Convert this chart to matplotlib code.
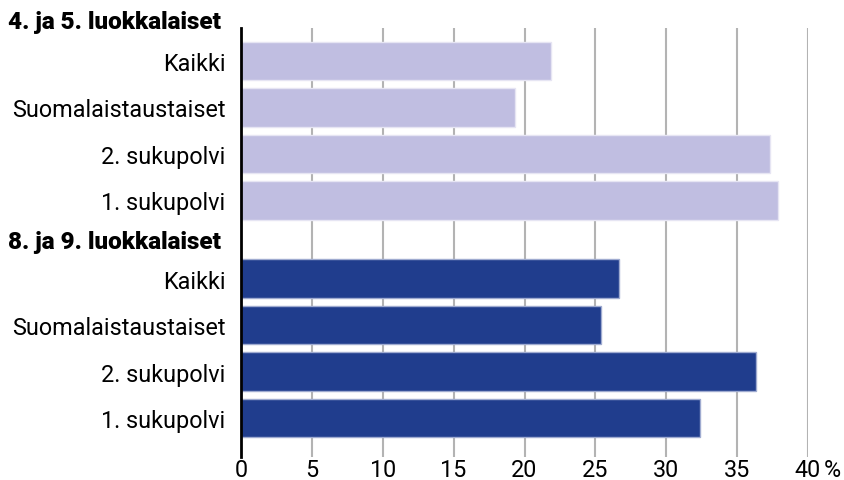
import matplotlib
matplotlib.use("Agg")
import matplotlib.pyplot as plt

# Share of pupils (%) by background, two grade groups
groups = ["4. ja 5. luokkalaiset", "8. ja 9. luokkalaiset"]
categories = ["Kaikki", "Suomalaistaustaiset", "2. sukupolvi", "1. sukupolvi"]
values_grade45 = [21.9, 19.3, 37.3, 37.9]
values_grade89 = [26.7, 25.4, 36.3, 32.4]
xticks = [0, 5, 10, 15, 20, 25, 30, 35, 40]

colors = ["#c0bee1", "#203d8d"]
edges = ["#e6e5f3", "#9fabd0"]

plt.rcParams["font.family"] = ["Roboto", "DejaVu Sans"]

W, H = 845, 481
fig = plt.figure(figsize=(W / 100, H / 100), dpi=100)
ax_left, ax_right, ax_top, ax_bottom = 241, 808, 29, 458
ax = fig.add_axes([ax_left / W, 1 - ax_bottom / H,
                   (ax_right - ax_left) / W, (ax_bottom - ax_top) / H])

# vertical layout in slot units (one slot = one bar pitch)
group_offsets = [0.0, 4.68]
bar_h = 0.83
pitch_px = 46.5
first_center_px = 62

yticks, ylabels = [], []
for g, (vals, off) in enumerate(zip([values_grade45, values_grade89], group_offsets)):
    ys = [off + i for i in range(len(categories))]
    ax.barh(ys, vals, height=bar_h, color=colors[g], edgecolor=edges[g],
            linewidth=1.0, zorder=3)
    yticks += ys
    ylabels += categories

ymin = (ax_top - first_center_px) / pitch_px
ymax = (ax_bottom - first_center_px) / pitch_px
ax.set_ylim(ymax, ymin)
ax.set_xlim(0, 40)

ax.set_yticks(yticks)
ax.set_yticklabels(ylabels, fontsize=16.8)
ax.set_xticks(xticks)
ax.set_xticklabels([str(t) for t in xticks], fontsize=16.8)
ax.tick_params(axis="y", length=0, pad=11)
ax.tick_params(axis="x", length=0, pad=1)

for t in xticks[1:]:
    ax.axvline(t, color="#b3b3b3", linewidth=1.5, zorder=1)

for s in ["top", "right", "bottom"]:
    ax.spines[s].set_visible(False)
ax.spines["left"].set_linewidth(2)
ax.spines["left"].set_color("black")
ax.spines["left"].set_zorder(5)

# percent sign after the last tick label
ax.annotate("%", xy=(40, ymax), xycoords="data", xytext=(11, -1),
            textcoords="offset points", ha="left", va="top", fontsize=16.8)

# group headings
header_px = [22, 243]
for name, hp in zip(groups, header_px):
    fig.text(8 / W, 1 - hp / H, name, ha="left", va="center",
             fontsize=17.5, fontweight="black")

fig.savefig("out.png", dpi=100)
